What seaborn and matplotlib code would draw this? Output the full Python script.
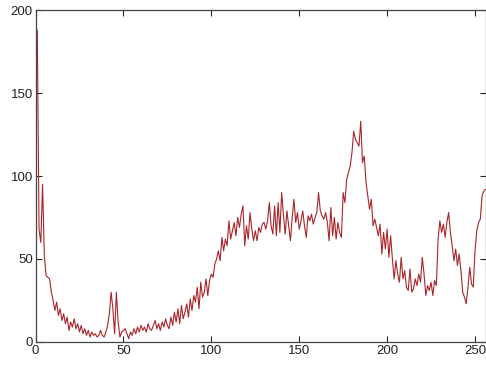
import matplotlib
matplotlib.use("Agg")
import matplotlib.pyplot as plt
import seaborn as sns
import pandas as pd

# Histogram counts for bins 1..256
counts = [
    188, 68, 60, 95, 52, 40, 39, 38, 30,
    25, 19, 24, 16, 20, 13, 17, 11, 15, 7,
    12, 9, 14, 8, 11, 6, 10, 5, 8, 4,
    7, 3, 6, 4, 5, 3, 4, 7, 4, 3,
    6, 10, 17, 30, 20, 5, 30, 12, 3, 6,
    7, 8, 5, 2, 6, 4, 8, 5, 9, 6,
    10, 7, 9, 6, 11, 8, 7, 10, 13, 8,
    11, 7, 12, 9, 14, 10, 8, 15, 10, 18,
    12, 20, 11, 22, 14, 18, 23, 15, 26, 19,
    28, 24, 33, 20, 36, 27, 30, 38, 28, 37,
    41, 39, 47, 50, 55, 49, 63, 55, 62, 58,
    73, 62, 67, 72, 64, 75, 69, 77, 82, 58,
    70, 62, 78, 68, 61, 67, 61, 69, 66, 71,
    72, 68, 73, 84, 70, 65, 82, 64, 84, 66,
    90, 77, 65, 79, 70, 61, 75, 86, 72, 78,
    68, 73, 79, 70, 63, 76, 73, 77, 71, 75,
    78, 90, 79, 76, 74, 78, 72, 61, 81, 64,
    75, 62, 72, 66, 63, 90, 84, 98, 102, 106,
    114, 127, 122, 120, 118, 133, 108, 112, 96, 88,
    80, 86, 70, 74, 69, 64, 71, 53, 66, 56,
    68, 51, 64, 50, 38, 49, 41, 36, 51, 38,
    43, 33, 31, 44, 30, 32, 38, 34, 41, 36,
    51, 41, 28, 34, 31, 36, 28, 37, 34, 62,
    73, 66, 71, 63, 72, 78, 66, 58, 49, 56,
    46, 53, 43, 30, 27, 23, 33, 45, 35, 33,
    55, 67, 72, 74, 88, 91, 92,
]
bins = list(range(1, len(counts) + 1))
x_ticks = [0, 50, 100, 150, 200, 250]
y_ticks = [0, 50, 100, 150, 200]

sns.set_style("ticks")
plt.rcParams["font.family"] = ["Liberation Sans Narrow", "Liberation Sans", "DejaVu Sans"]

df = pd.DataFrame({"bin": bins, "count": counts})

fig = plt.figure(figsize=(4.86, 3.66), dpi=100)
ax = fig.add_axes([0.0731, 0.0656, 0.926, 0.907])
sns.lineplot(data=df, x="bin", y="count", ax=ax, color="#a8252a", linewidth=0.8)

ax.set_xlim(0, 256)
ax.set_ylim(0, 200)
ax.set_xticks(x_ticks)
ax.set_yticks(y_ticks)
ax.set_xlabel("")
ax.set_ylabel("")
ax.tick_params(direction="in", length=4, width=0.8, colors="#222222",
               labelsize=9.5, top=True, right=True, pad=2)
for s in ax.spines.values():
    s.set_visible(True)
    s.set_color("#444444")
    s.set_linewidth(0.9)

fig.savefig("out.png", dpi=100, facecolor="white")
